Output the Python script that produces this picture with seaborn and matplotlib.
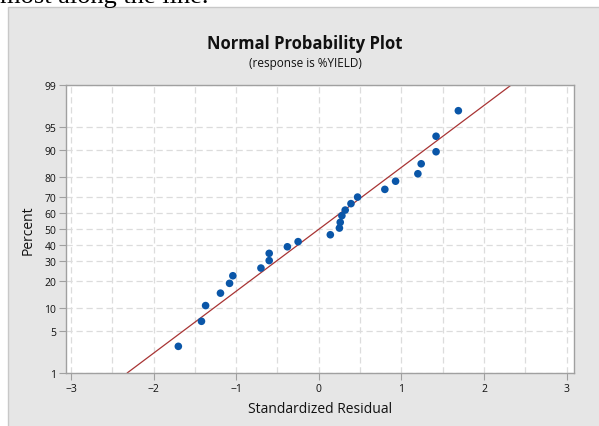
import numpy as np
import pandas as pd
import matplotlib
matplotlib.use("Agg")
import matplotlib.pyplot as plt
import seaborn as sns
from matplotlib.patches import Rectangle
from statistics import NormalDist

sns.set_theme(style="white")
plt.rcParams["font.family"] = ["Open Sans", "DejaVu Sans"]

# standardized residuals and their plotted percents
resid = [-1.70, -1.42, -1.37, -1.19, -1.08, -1.04, -0.70, -0.60, -0.60, -0.38,
         -0.25, 0.14, 0.25, 0.26, 0.28, 0.32, 0.39, 0.47, 0.80, 0.93,
         1.20, 1.24, 1.42, 1.42, 1.69]
pct = [2.9, 6.8, 10.8, 15.0, 19.0, 22.5, 26.4, 30.5, 34.7, 38.7,
       41.9, 46.3, 50.6, 54.3, 58.5, 62.0, 65.9, 69.7, 73.9, 78.0,
       81.4, 85.4, 89.4, 93.3, 97.2]

# fitted reference line end points
fit_x = [-2.32, 2.33]
fit_pct = [1, 99]

y_ticks = [1, 5, 10, 20, 30, 40, 50, 60, 70, 80, 90, 95, 99]
x_ticks = [-3, -2, -1, 0, 1, 2, 3]

points = pd.DataFrame({"resid": resid, "pct": pct})
fit = pd.DataFrame({"resid": fit_x, "pct": fit_pct})

nd = NormalDist()
_ppf = np.vectorize(lambda p: nd.inv_cdf(min(max(p / 100.0, 1e-9), 1 - 1e-9)),
                    otypes=[float])
_cdf = np.vectorize(lambda z: nd.cdf(z) * 100.0, otypes=[float])


def forward(p):
    return _ppf(np.asarray(p, dtype=float))


def inverse(z):
    return _cdf(np.asarray(z, dtype=float))


W, H = 599, 427
fig = plt.figure(figsize=(W / 100, H / 100), dpi=100)
fig.patch.set_facecolor("white")

# gray panel behind the plot
fig.patches.append(Rectangle((8 / W, -0.01), 1, 1.01 - 7.5 / H, transform=fig.transFigure,
                             facecolor="#e6e6e6", edgecolor="#c8c8c8", lw=1, zorder=-5))

# cut-off text from the page above the chart
fig.text(0, 1 - 3 / H, "most along the line.", family="Liberation Serif",
         fontsize=19, va="baseline", ha="left", color="black")

ax = fig.add_axes([66 / W, 1 - 374 / H, (574 - 66) / W, (374 - 86) / H])
ax.set_facecolor("white")

sns.lineplot(data=fit, x="resid", y="pct", ax=ax, color="#a83434", lw=0.9, zorder=2)
sns.scatterplot(data=points, x="resid", y="pct", ax=ax, color="#0a56a8", s=30,
                edgecolor="none", zorder=3)

ax.set_yscale("function", functions=(forward, inverse))
ax.set_ylim(1, 99)
ax.set_xlim(-3.06, 3.09)
ax.set_yticks(y_ticks)
ax.set_yticklabels([str(t) for t in y_ticks])
ax.yaxis.set_minor_locator(matplotlib.ticker.NullLocator())
ax.set_xticks(x_ticks)
ax.set_xticks(np.arange(-3, 3.01, 0.5), minor=True)

ax.grid(True, which="both", color="#dcdcdc", lw=0.9, ls=(0, (5, 3)))
ax.set_axisbelow(True)
ax.tick_params(which="major", length=5, width=0.8, color="#a0a0a0",
               labelsize=7.5, labelcolor="#111111", pad=2, direction="out",
               left=True, bottom=True)
ax.tick_params(which="minor", length=0)
for s in ax.spines.values():
    s.set_color("#a0a0a0")
    s.set_linewidth(1)

ax.set_xlabel("Standardized Residual", fontsize=10, labelpad=5, color="#111111")
ax.set_ylabel("Percent", fontsize=10, labelpad=6, color="#111111")

fig.text(305 / W, 1 - 44 / H, "Normal Probability Plot", ha="center", va="center",
         fontsize=12, fontweight="bold", color="#111111")
fig.text(305 / W, 1 - 64 / H, "(response is %YIELD)", ha="center", va="center",
         fontsize=8.5, color="#111111")

fig.savefig("out.png", dpi=100)
